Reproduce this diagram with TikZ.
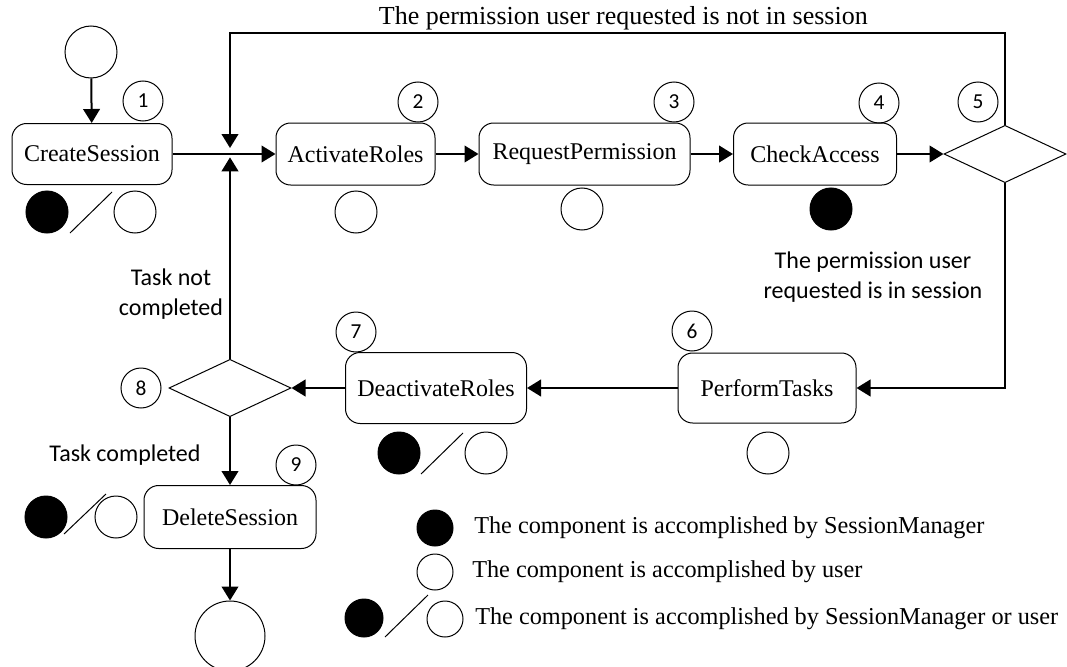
\documentclass[tikz,border=0pt]{standalone}
\usepackage{fontspec}
\setmainfont{Liberation Serif}
\newfontfamily\calfont{Carlito}
\usetikzlibrary{shapes.geometric,arrows.meta}
\tikzset{
  box/.style={draw, rounded corners=11pt, line width=0.75pt, inner sep=0pt,
    font=\fontsize{18}{22}\selectfont},
  numc/.style={circle, draw, line width=0.75pt, minimum size=30pt, inner sep=0pt,
    font=\calfont\fontsize{16}{18}\selectfont},
  usr/.style={circle, draw, line width=0.75pt, minimum size=31.5pt, inner sep=0pt},
  mgr/.style={usr, fill=black},
  dia/.style={diamond, draw, line width=0.75pt, inner sep=0pt, minimum width=91.5pt, minimum height=43pt},
  term/.style={circle, draw, line width=0.75pt, inner sep=0pt},
  arr/.style={-{Triangle[length=10.5pt,width=12.5pt]}, line width=1.5pt},
  slash/.style={line width=0.75pt},
  lbl/.style={font=\calfont\fontsize{18}{22.5}\selectfont, align=center, inner sep=0pt},
  toplbl/.style={font=\fontsize{19.5}{23}\selectfont, inner sep=0pt},
  leg/.style={font=\fontsize{18.2}{22}\selectfont, anchor=west, inner sep=0pt},
  lmgr/.style={circle, draw, fill=black, line width=0.75pt, minimum size=27pt, inner sep=0pt},
  lusr/.style={circle, draw, line width=0.75pt, minimum size=27pt, inner sep=0pt},
}
\begin{document}
\begin{tikzpicture}[x=0.75pt,y=-0.75pt]
\useasboundingbox (0,0) rectangle (1067,667);
% start / end
\node[term, minimum size=39pt] (start) at (91,52) {};
\node[term, minimum size=52.5pt] (end) at (230,636) {};
% row 1 boxes
\node[box, minimum width=120pt, minimum height=45.75pt] (cs) at (92,154) {CreateSession};
\node[box, minimum width=119.25pt, minimum height=46.5pt] (ar) at (355.5,154) {ActivateRoles};
\node[box, minimum width=158.25pt, minimum height=46.5pt] (rp) at (584.5,154) {RequestPermission};
\node[box, minimum width=122.25pt, minimum height=46.5pt] (ca) at (815,154) {CheckAccess};
\node[dia] (d5) at (1005,154) {};
% row 2
\node[box, minimum width=133.5pt, minimum height=52.5pt] (pt) at (767,388) {PerformTasks};
\node[box, minimum width=135.75pt, minimum height=53.25pt] (dr) at (436,388) {DeactivateRoles};
\node[dia] (d8) at (230,388) {};
\node[box, minimum width=129pt, minimum height=47.25pt] (ds) at (230,517) {DeleteSession};
% numbers
\node[numc] (n1) at (143,101) {1};
\node[numc] (n2) at (418,102) {2};
\node[numc] (n3) at (674,102) {3};
\node[numc] (n4) at (879,103) {4};
\node[numc] (n5) at (978,102) {5};
\node[numc] (n6) at (692,331) {6};
\node[numc] (n7) at (356,332) {7};
\node[numc] (n8) at (141,388) {8};
\node[numc] (n9) at (296,465) {9};
% indicators
\node[mgr] (i1a) at (47,212) {};
\node[usr] (i1b) at (135,212) {};
\draw[slash] (70,233) -- (112,192);
\node[usr] (i2) at (356,212) {};
\node[usr] (i3) at (582,209) {};
\node[mgr] (i4) at (831,209) {};
\node[usr] (i6) at (768,453) {};
\node[mgr] (i7a) at (399,453) {};
\node[usr] (i7b) at (486,453) {};
\draw[slash] (421,474) -- (463,433);
\node[mgr] (i9a) at (46,517) {};
\node[usr] (i9b) at (116,517) {};
\draw[slash] (64,534) -- (106,494);
% junction and connectors
\coordinate (J) at (230,154);
\coordinate (tl) at (230,33);
\draw[arr] (start) -- (cs);
\draw[arr] (cs) -- (ar);
\draw[arr] (ar) -- (rp);
\draw[arr] (rp) -- (ca);
\draw[arr] (ca) -- (d5);
\draw[arr, shorten >=4.5pt] (d5.north) |- (tl) -- (J);
\draw[arr] (d5.south) |- (pt.east);
\draw[arr] (pt) -- (dr);
\draw[arr] (dr) -- (d8);
\draw[arr, shorten >=2.5pt] (d8.north) -- (J);
\draw[arr] (d8.south) -- (ds.north);
\draw[arr] (ds.south) -- (end.north);
% labels
\node[toplbl, anchor=east] (tlab) at (868,18) {The permission user requested is not in session};
\node[lbl] (inlab) at (873,277) {The permission user\\requested is in session};
\node[lbl] (tnc) at (171,294) {Task not\\completed};
\node[lbl] (tc) at (125,455) {Task completed};
% legend
\node[lmgr] (l1) at (435,528) {};
\node[leg] (l1t) at (474,528) {The component is accomplished by SessionManager};
\node[lusr] (l2) at (435,572) {};
\node[leg] (l2t) at (472,572) {The component is accomplished by user};
\node[lmgr, minimum size=28.5pt] (l3a) at (364,618) {};
\node[lusr] (l3b) at (445,619) {};
\draw[slash] (385,637) -- (428,595);
\node[leg] (l3t) at (475,619) {The component is accomplished by SessionManager or user};
\end{tikzpicture}
\end{document}
